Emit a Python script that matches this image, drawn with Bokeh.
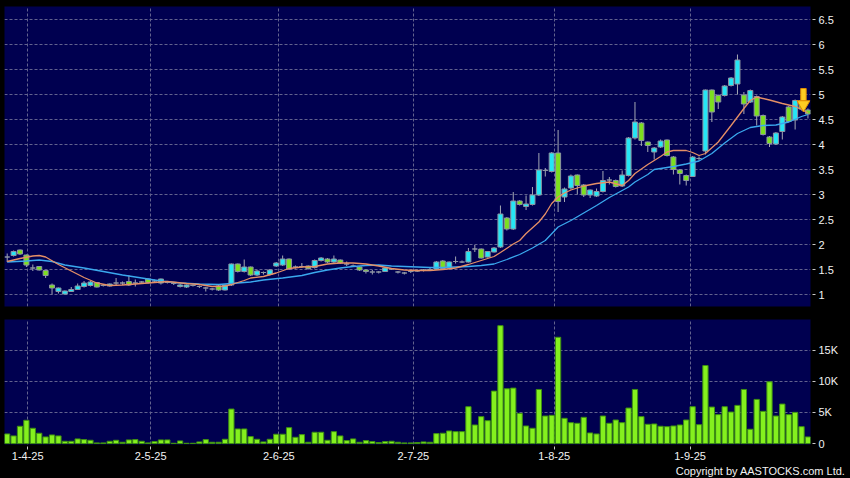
from bokeh.plotting import figure
from bokeh.layouts import column
from bokeh.models import Range1d, FixedTicker, ColumnDataSource, Title
from bokeh.embed import file_html
from bokeh.resources import INLINE

# ---------------- data ----------------
opens = [1.75,1.78,1.89,1.79,1.53,1.56,1.48,1.19,1.06,1.01,
         1.06,1.10,1.16,1.18,1.24,1.18,1.17,1.23,1.23,1.26,
         1.23,1.25,1.31,1.27,1.23,1.24,1.22,1.16,1.15,1.18,
         1.16,1.13,1.11,1.17,1.09,1.19,1.61,1.46,1.55,1.39,
         1.44,1.40,1.57,1.59,1.71,1.55,1.56,1.57,1.54,1.68,
         1.71,1.65,1.69,1.61,1.57,1.55,1.49,1.45,1.45,1.46,
         1.51,1.45,1.43,1.46,1.47,1.49,1.50,1.51,1.67,1.53,
         1.66,1.65,1.65,1.91,1.91,1.75,1.85,1.95,2.53,2.31,
         2.87,2.76,2.80,2.99,3.48,3.46,3.83,2.95,3.13,3.39,
         3.19,2.99,2.97,3.06,3.29,3.28,3.17,3.38,4.13,4.43,
         4.05,3.85,3.95,4.09,3.75,3.49,3.38,3.36,3.72,3.87,
         5.09,4.98,4.98,5.18,5.21,4.99,4.85,4.96,4.58,4.15,
         4.01,4.26,4.75,4.49,4.88,4.69]
highs = [1.82,1.88,1.90,1.80,1.60,1.57,1.49,1.22,1.14,1.08,
         1.15,1.22,1.27,1.27,1.25,1.21,1.22,1.33,1.26,1.39,
         1.30,1.27,1.32,1.30,1.32,1.27,1.25,1.21,1.20,1.20,
         1.18,1.15,1.13,1.19,1.20,1.62,1.62,1.70,1.56,1.49,
         1.46,1.51,1.65,1.78,1.72,1.58,1.63,1.58,1.70,1.75,
         1.73,1.78,1.70,1.66,1.60,1.56,1.50,1.49,1.47,1.54,
         1.52,1.47,1.45,1.48,1.50,1.51,1.53,1.67,1.69,1.66,
         1.76,1.68,1.93,1.99,1.92,1.87,1.95,2.78,2.55,3.05,
         2.89,2.98,3.15,3.83,3.53,3.85,4.29,3.14,3.40,3.40,
         3.21,3.10,3.12,3.47,3.35,3.30,3.48,4.15,4.85,4.45,
         4.06,3.95,4.10,4.10,3.77,3.51,3.40,3.77,3.76,5.10,
         5.10,5.00,5.19,5.35,5.80,5.05,5.10,4.98,4.60,4.17,
         4.25,4.57,4.77,4.90,4.95,4.72]
lows = [1.65,1.76,1.79,1.55,1.47,1.48,1.33,1.00,1.02,1.00,
        1.05,1.09,1.14,1.16,1.14,1.16,1.16,1.19,1.19,1.17,
        1.16,1.22,1.22,1.24,1.20,1.22,1.19,1.14,1.13,1.16,
        1.13,1.06,1.08,1.07,1.08,1.17,1.44,1.44,1.37,1.37,
        1.40,1.38,1.55,1.57,1.49,1.52,1.53,1.50,1.52,1.66,
        1.63,1.63,1.61,1.57,1.55,1.47,1.42,1.40,1.42,1.45,
        1.49,1.42,1.40,1.43,1.45,1.46,1.48,1.50,1.50,1.50,
        1.62,1.63,1.64,1.85,1.72,1.74,1.84,1.93,2.28,2.29,
        2.78,2.69,2.78,2.97,3.36,3.44,2.65,2.85,3.10,3.00,
        2.95,2.93,2.95,3.04,3.20,3.14,3.15,3.36,4.10,3.97,
        3.85,3.70,3.93,3.76,3.40,3.20,3.18,3.35,3.68,3.80,
        4.45,4.71,4.96,5.16,5.00,4.61,4.83,4.38,4.18,3.95,
        3.99,4.10,4.44,4.30,4.68,4.52]
closes = [1.75,1.86,1.81,1.59,1.53,1.49,1.38,1.13,1.13,1.07,
          1.10,1.17,1.23,1.25,1.15,1.18,1.21,1.23,1.23,1.19,
          1.23,1.25,1.24,1.27,1.31,1.24,1.22,1.19,1.19,1.18,
          1.16,1.13,1.11,1.09,1.19,1.61,1.46,1.55,1.39,1.47,
          1.44,1.49,1.63,1.71,1.51,1.55,1.56,1.52,1.68,1.73,
          1.65,1.71,1.63,1.61,1.57,1.49,1.46,1.45,1.45,1.53,
          1.51,1.45,1.43,1.46,1.47,1.49,1.50,1.65,1.52,1.65,
          1.66,1.65,1.86,1.91,1.73,1.86,1.93,2.61,2.31,2.87,
          2.80,2.81,2.99,3.49,3.48,3.83,2.86,3.11,3.37,3.18,
          2.99,3.09,3.06,3.28,3.29,3.16,3.39,4.13,4.45,4.08,
          3.98,3.93,4.07,3.78,3.50,3.42,3.28,3.75,3.72,5.09,
          4.65,4.85,5.17,5.33,5.69,4.81,5.08,4.57,4.20,4.02,
          4.23,4.55,4.46,4.88,4.71,4.61]
volumes = [1550,1230,2780,3740,2460,1660,1070,1390,1230,370,
           370,750,640,530,110,110,370,530,210,590,
           640,370,110,320,590,590,50,430,50,50,
           270,640,210,210,690,5550,2350,2350,1120,690,
           270,690,1500,1500,2560,1010,1440,210,1820,1820,
           530,1920,1230,480,750,210,480,320,160,320,
           370,210,110,110,160,270,210,1600,1660,2030,
           1920,1920,5930,2990,4330,3680,8440,18960,8810,8920,
           4860,2830,2460,8700,4430,4540,17090,4060,3360,3260,
           4220,1710,1550,4430,3260,3790,3360,5710,8700,4330,
           3100,3150,2780,2720,2830,2990,3790,5930,3040,12550,
           5870,4650,5930,5070,6140,8700,2300,7100,5180,9930,
           4430,6350,4650,5020,2720,1070]

# moving averages (sample index, value)
ma_fast_idx = [0,2,4,5,6,8,10,12,14,16,18,20,22,25,28,30,32,34,35,37,
               38,40,42,44,46,48,50,52,54,56,58,60,62,64,66,68,70,72,74,76,
               77,79,80,81,83,84,85,86,87,88,90,92,94,96,97,98,100,102,103,104,
               106,107,108,109,111,113,114,115,116,117,119,121,123,124,125]
ma_fast_val = [1.66,1.72,1.77,1.78,1.75,1.60,1.47,1.34,1.23,1.18,1.19,1.21,1.23,1.26,1.22,1.20,1.16,1.17,1.20,1.28,
               1.33,1.36,1.43,1.52,1.55,1.56,1.61,1.63,1.63,1.61,1.57,1.52,1.49,1.48,1.48,1.50,1.53,1.60,1.68,1.76,
               1.84,2.01,2.08,2.22,2.45,2.61,2.82,2.95,3.03,3.09,3.17,3.22,3.25,3.18,3.28,3.42,3.60,3.76,3.85,3.88,
               3.88,3.84,3.78,3.82,4.05,4.38,4.55,4.72,4.88,4.95,4.89,4.82,4.76,4.70,4.63]
ma_slow_idx = [0,3,5,7,9,12,15,18,21,24,27,30,33,35,38,40,43,46,48,50,
               52,54,56,58,60,62,64,66,68,70,72,74,76,78,80,82,84,86,88,90,
               92,94,96,97,98,100,101,102,104,106,108,110,112,114,116,118,120,122,124,125]
ma_slow_val = [1.65,1.67,1.69,1.66,1.59,1.53,1.46,1.39,1.33,1.27,1.23,1.21,1.20,1.22,1.25,1.29,1.33,1.38,1.44,1.49,
               1.53,1.56,1.58,1.59,1.57,1.56,1.55,1.54,1.54,1.55,1.56,1.58,1.61,1.70,1.80,1.93,2.08,2.35,2.48,2.63,
               2.78,2.94,3.08,3.15,3.25,3.40,3.50,3.52,3.56,3.61,3.67,3.82,4.03,4.22,4.34,4.38,4.39,4.45,4.56,4.60]

price_ticks = [1, 1.5, 2, 2.5, 3, 3.5, 4, 4.5, 5, 5.5, 6, 6.5]
price_tick_labels = ["1", "1.5", "2", "2.5", "3", "3.5", "4", "4.5", "5", "5.5", "6", "6.5"]
vol_ticks = [0, 5000, 10000, 15000]
vol_tick_labels = ["0", "5K", "10K", "15K"]
date_tick_pos = [3.2, 22.4, 42.4, 63.4, 85.4, 106.6]
date_tick_labels = ["1-4-25", "2-5-25", "2-6-25", "2-7-25", "1-8-25", "1-9-25"]

# signal arrow (annotation) on the second-to-last session
arrow_idx = 124.3
arrow_top = 5.12
arrow_neck = 4.87
arrow_head = 4.80

copyright_text = "Copyright by AASTOCKS.com Ltd."

# ---------------- styling ----------------
FONT = "Liberation Sans"
OUTER = "#000000"
FRAME = "#000050"
GRID = "#62628e"
UP = "#25e6f5"
DOWN = "#7ce01e"
FLAT = "#9aa2ac"
EDGE = "#8c94a2"
WICK = "#a4a8b4"
FAST = "#e58f66"
SLOW = "#3aa8ee"
VOLF = "#84f01e"
VOLE = "#3e9012"
TXT = "#f2f2f2"

n = len(closes)
idx = list(range(n))
colors = [UP if c > o else (DOWN if c < o else FLAT) for o, c in zip(opens, closes)]
src = ColumnDataSource(dict(
    x=idx, h=highs, l=lows,
    top=[max(o, c) for o, c in zip(opens, closes)],
    bottom=[min(o, c) for o, c in zip(opens, closes)],
    color=colors))

x_range = Range1d(-0.42, 125.4)


def style_axis(ax, ticks, labels):
    ax.ticker = FixedTicker(ticks=ticks)
    ax.major_label_overrides = dict(zip(ticks, labels))
    ax.axis_line_color = None
    ax.major_tick_line_color = "#c8c8c8"
    ax.major_tick_in = -2
    ax.major_tick_out = 5
    ax.minor_tick_line_color = None
    ax.major_label_text_color = TXT
    ax.major_label_text_font = FONT
    ax.major_label_text_font_size = "11px"
    ax.major_label_standoff = 3


def style_grid(g, ticks):
    g.ticker = FixedTicker(ticks=ticks)
    g.grid_line_color = GRID
    g.grid_line_dash = "3 2"
    g.grid_line_width = 1


def frame_style(fig):
    fig.background_fill_color = FRAME
    fig.border_fill_color = OUTER
    fig.outline_line_color = None


# ---------------- price panel ----------------
price = figure(width=850, height=312, x_range=x_range, y_range=Range1d(0.76, 6.76),
               x_axis_location=None, y_axis_location="right",
               toolbar_location=None, output_backend="svg",
               min_border_left=4, min_border_right=40, min_border_top=6, min_border_bottom=6)
frame_style(price)
style_axis(price.yaxis[0], price_ticks, price_tick_labels)
style_grid(price.ygrid[0], price_ticks)
style_grid(price.xgrid[0], date_tick_pos)

price.segment(x0="x", y0="l", x1="x", y1="h", source=src, line_color=WICK, line_width=1)
price.vbar(x="x", width=0.78, top="top", bottom="bottom", source=src,
           fill_color="color", line_color=EDGE, line_width=1)
price.line(ma_slow_idx, ma_slow_val, line_color=SLOW, line_width=1.3)
price.line(ma_fast_idx, ma_fast_val, line_color=FAST, line_width=1.3)

# arrow marker
price.vbar(x=[arrow_idx], width=0.85, top=[arrow_top], bottom=[arrow_neck],
           fill_color="#ffcc22", line_color="#e08a00", line_width=1)
price.scatter(x=[arrow_idx], y=[arrow_head], marker="inverted_triangle", size=13,
              fill_color="#ffcc22", line_color="#e08a00", line_width=1)

# ---------------- volume panel ----------------
vol = figure(width=850, height=166, x_range=x_range, y_range=Range1d(-150, 19950),
             x_axis_location="below", y_axis_location="right",
             toolbar_location=None, output_backend="svg",
             min_border_left=4, min_border_right=40, min_border_top=7, min_border_bottom=34)
frame_style(vol)
style_axis(vol.yaxis[0], vol_ticks, vol_tick_labels)
style_axis(vol.xaxis[0], date_tick_pos, date_tick_labels)
vol.xaxis[0].major_label_standoff = 2
style_grid(vol.ygrid[0], vol_ticks[1:])
style_grid(vol.xgrid[0], date_tick_pos)

vol.vbar(x=idx, width=0.82, top=volumes, bottom=0, fill_color=VOLF, line_color=VOLE, line_width=1)

vol.add_layout(Title(text=copyright_text, align="right", offset=-35, standoff=0,
                     text_color=TXT, text_font=FONT, text_font_size="11px",
                     text_font_style="normal"), "below")

layout = column(price, vol, spacing=0)
layout.styles = {"background-color": OUTER}

open("out.html", "w").write(file_html(layout, INLINE))
